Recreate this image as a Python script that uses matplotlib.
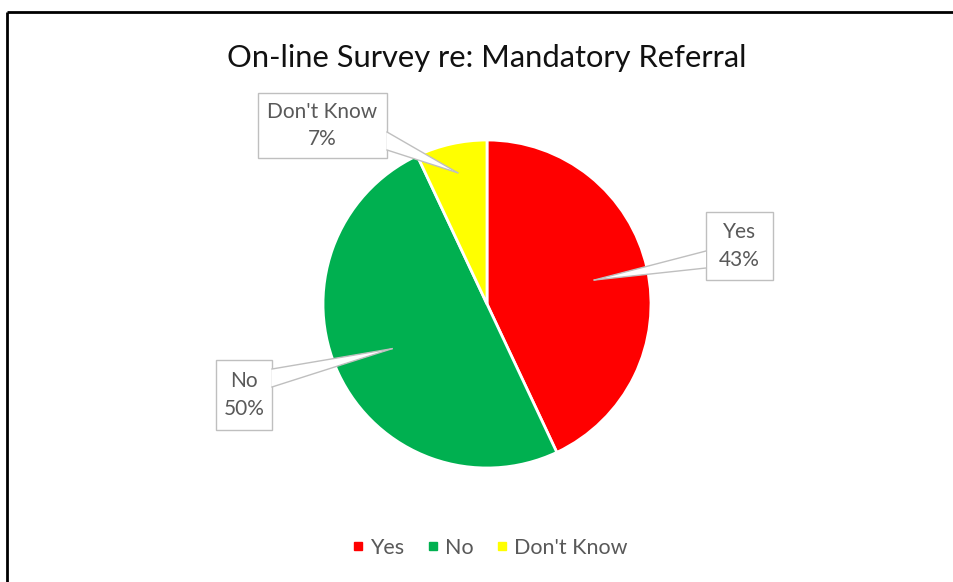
import numpy as np
import matplotlib
matplotlib.use("Agg")
import matplotlib.pyplot as plt
from matplotlib.patches import Rectangle, Polygon
from matplotlib.lines import Line2D

# data
labels = ["Yes", "No", "Don't Know"]
values = [43, 50, 7]
colors = ["#ff0000", "#00b050", "#ffff00"]
title = "On-line Survey re: Mandatory Referral"

plt.rcParams['font.family'] = ['Lato', 'DejaVu Sans']
W, H = 954, 582
fig = plt.figure(figsize=(W / 100, H / 100), dpi=100)
ax = fig.add_axes([0, 0, 1, 1])
ax.set_xlim(0, W)
ax.set_ylim(0, H)
ax.set_aspect('equal')
ax.axis('off')

# frame (only left and top line in the picture)
ax.plot([7.5, 7.5], [0, H - 11.5], color='black', lw=2, solid_capstyle='butt')
ax.plot([7.5, W], [H - 11.5, H - 11.5], color='black', lw=2, solid_capstyle='butt')

cx, cy, R = 487, H - 304, 164
wedges, _ = ax.pie(values, colors=colors, startangle=90, counterclock=False,
                   center=(cx, cy), radius=R,
                   wedgeprops=dict(edgecolor='white', linewidth=2))
ax.set_xlim(0, W)
ax.set_ylim(0, H)

ax.text(cx, H - 58, title, ha='center', va='center', fontsize=22.2, color='#111111')

# callout boxes: (x0, y0 top, x1, y1 bottom) in pixels, tip radius, base side
boxes = [
    dict(box=(706, 212, 773, 280), rtip=0.67, base=((706, 251), (706, 268))),
    dict(box=(216, 360, 272, 430), rtip=0.64, base=((272, 369), (272, 387))),
    dict(box=(258, 93, 387, 158), rtip=0.82, base=((387, 132), (387, 150))),
]
total = sum(values)
for w, lab, v, b in zip(wedges, labels, values, boxes):
    mid = np.deg2rad((w.theta1 + w.theta2) / 2)
    tip = (cx + b['rtip'] * R * np.cos(mid), cy + b['rtip'] * R * np.sin(mid))
    x0, y0, x1, y1 = b['box']
    ax.add_patch(Rectangle((x0, H - y1), x1 - x0, y1 - y0, fc='white',
                           ec='#bfbfbf', lw=1, zorder=5))
    p1 = (b['base'][0][0], H - b['base'][0][1])
    p2 = (b['base'][1][0], H - b['base'][1][1])
    ax.add_patch(Polygon([p1, p2, tip], closed=True, fc='white', ec='none', zorder=6))
    ax.plot([p1[0], tip[0]], [p1[1], tip[1]], color='#bfbfbf', lw=1, zorder=7)
    ax.plot([p2[0], tip[0]], [p2[1], tip[1]], color='#bfbfbf', lw=1, zorder=7)
    ax.text((x0 + x1) / 2, H - (y0 + y1) / 2, "%s\n%d%%" % (lab, round(100 * v / total)),
            ha='center', va='center', fontsize=15, color='#595959',
            linespacing=1.45, zorder=8)

handles = [Line2D([], [], marker='s', ls='none', color=c, markersize=6) for c in colors]
fig.legend(handles, labels, loc='center', bbox_to_anchor=(490 / W, 1 - 548 / H),
           ncol=3, frameon=False, fontsize=15.5, handlelength=0.5, handletextpad=0.3,
           columnspacing=1.1, labelcolor='#595959')

fig.savefig('out.png', dpi=100)
